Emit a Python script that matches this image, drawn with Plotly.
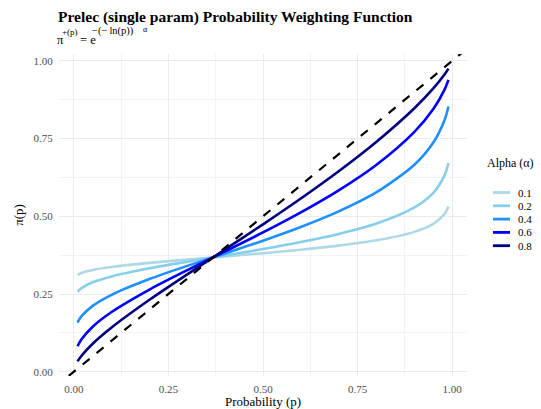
import plotly.graph_objects as go

# probabilities at which the curves were read
p = [0.01, 0.02, 0.05, 0.1, 0.2, 0.3, 0.4, 0.5, 0.6, 0.7, 0.8, 0.9, 0.95, 0.98, 0.99]

alpha_labels = ["0.1", "0.2", "0.4", "0.6", "0.8"]
w_a01 = [0.3119, 0.3179, 0.3276, 0.3372, 0.3504, 0.3611, 0.3711, 0.3814, 0.3926, 0.4057, 0.4229, 0.4500, 0.4757, 0.5082, 0.5319]
w_a02 = [0.2574, 0.2688, 0.2878, 0.3068, 0.3329, 0.3542, 0.3743, 0.3948, 0.4172, 0.4432, 0.4767, 0.5286, 0.5757, 0.6324, 0.6713]
w_a04 = [0.1585, 0.1780, 0.2120, 0.2476, 0.2983, 0.3406, 0.3807, 0.4216, 0.4656, 0.5158, 0.5776, 0.6660, 0.7373, 0.8106, 0.8531]
w_a06 = [0.0821, 0.1036, 0.1449, 0.1922, 0.2644, 0.3270, 0.3872, 0.4482, 0.5126, 0.5835, 0.6659, 0.7717, 0.8451, 0.9083, 0.9387]
w_a08 = [0.0336, 0.0509, 0.0902, 0.1424, 0.2315, 0.3135, 0.3936, 0.4743, 0.5575, 0.6451, 0.7400, 0.8477, 0.9113, 0.9569, 0.9751]
series = [w_a01, w_a02, w_a04, w_a06, w_a08]
colors = ["#ADD8E6", "#87CEEB", "#1E90FF", "#0000FF", "#000080"]

# identity line (y = x), clipped by the axes
diag = [-0.05, 1.05]

tick_vals = [0, 0.25, 0.5, 0.75, 1.0]
tick_text = ["0.00", "0.25", "0.50", "0.75", "1.00"]

FONT = "Liberation Serif"
W, H = 541, 409
ML, MR, MT, MB = 59, 74, 54, 33
PW, PH = W - ML - MR, H - MT - MB


def px_x(px):
    return (px - ML) / PW


def px_y(py):
    return (H - MB - py) / PH


fig = go.Figure()
for lab, ys, col in zip(alpha_labels, series, colors):
    fig.add_trace(go.Scatter(x=p, y=ys, mode="lines", name=lab, showlegend=False,
                             line=dict(color=col, width=2.6, shape="spline", smoothing=0.8)))
fig.add_trace(go.Scatter(x=diag, y=diag, mode="lines", showlegend=False,
                         line=dict(color="black", width=2.2, dash="dash")))

axis_common = dict(
    tickvals=tick_vals, ticktext=tick_text, showgrid=True, gridcolor="#EBEBEB", gridwidth=1,
    zeroline=False, showline=False, ticks="outside", ticklen=3, tickcolor="rgba(0,0,0,0)",
    tickfont=dict(family=FONT, size=11, color="#4D4D4D"), automargin=False,
    minor=dict(dtick=0.125, tick0=0, showgrid=True, gridcolor="#F3F3F3", gridwidth=0.6),
)


def txt(text, x, y, size, anchor="left"):
    return dict(text=text, xref="paper", yref="paper", x=px_x(x), y=px_y(y),
                xanchor=anchor, yanchor="middle", showarrow=False, borderpad=0, borderwidth=0,
                font=dict(family=FONT, size=size, color="black"))


annotations = [
    # subtitle formula, built from pieces: π^{+(p)} = e^{-(-ln(p))^α}
    txt("π", 56.5, 39.5, 12.5),
    txt("+(p)", 62, 32.5, 9),
    txt("= e", 79.5, 39.5, 12.5),
    txt("−(−\u2009ln(p))", 92, 31, 10.5),
    txt("α", 142.5, 29.5, 8),
    # legend title
    txt("Alpha (α)", 487, 163, 12),
]
shapes = []
leg_y0, leg_dy = 192.5, 13.3
for i, (lab, col) in enumerate(zip(alpha_labels, colors)):
    yy = leg_y0 + i * leg_dy
    shapes.append(dict(type="line", xref="paper", yref="paper", x0=px_x(493), x1=px_x(510),
                       y0=px_y(yy), y1=px_y(yy), line=dict(color=col, width=2.8)))
    annotations.append(txt(lab, 518, yy, 11))

fig.update_layout(
    width=W, height=H,
    margin=dict(l=ML, r=MR, t=MT, b=MB),
    paper_bgcolor="white", plot_bgcolor="white",
    font=dict(family=FONT, color="black"),
    showlegend=False,
    title=dict(text="<b>Prelec (single param) Probability Weighting Function</b>",
               x=58 / W, xanchor="left", xref="container", y=1 - 17 / H, yanchor="middle",
               yref="container", font=dict(family=FONT, size=15.5, color="black")),
    xaxis=dict(axis_common, range=[-0.039, 1.039],
               title=dict(text="Probability (p)", font=dict(family=FONT, size=13), standoff=1)),
    yaxis=dict(axis_common, range=[-0.0135, 1.022],
               title=dict(text="π(p)", font=dict(family=FONT, size=13), standoff=6)),
    annotations=annotations,
    shapes=shapes,
)

fig.write_html("out.html", config={"displayModeBar": False},
               post_script="document.body.style.margin='0';")
